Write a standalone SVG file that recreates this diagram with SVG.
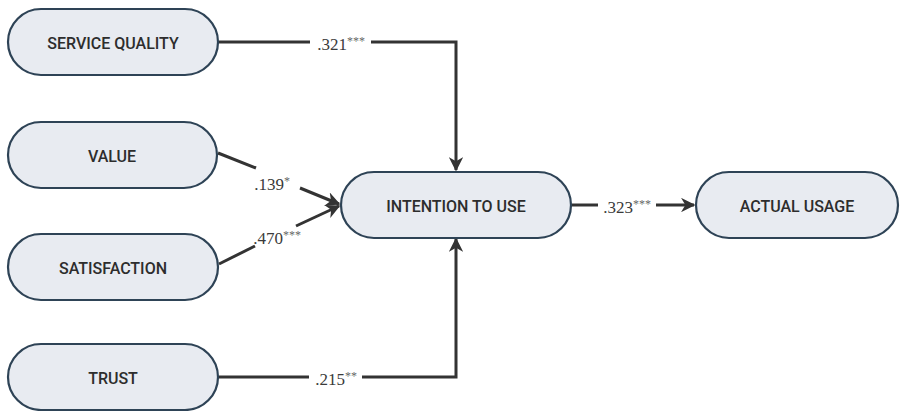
<svg xmlns="http://www.w3.org/2000/svg" width="901" height="411" viewBox="0 0 901 411">
<defs>
<style>
.node{fill:#e8ebf1;stroke:#2e4356;stroke-width:2.2}
.nt{font-family:Roboto,"Liberation Sans",sans-serif;font-size:16px;font-weight:500;fill:#2d2d2d;text-anchor:middle;dominant-baseline:central}
.ln{fill:none;stroke:#333;stroke-width:3}
.lb{font-family:"Liberation Serif",serif;font-size:17px;fill:#3a3a3a;text-anchor:middle;dominant-baseline:central}
.st{font-size:12px;fill:#666}
</style>
<marker id="ah" viewBox="0 0 10 10" refX="9" refY="5" markerWidth="4.8" markerHeight="4.8" orient="auto" markerUnits="strokeWidth">
<path d="M0,0 L10,5 L0,10 L3,5 Z" fill="#333"/>
</marker>
</defs>
<rect width="901" height="411" fill="#fff"/>
<g id="connectors">
<path class="ln" d="M219,42 H310"/>
<path class="ln" d="M371,42 H456 V170" marker-end="url(#ah)"/>
<path class="ln" d="M219,377 H309"/>
<path class="ln" d="M362,377 H456 V239" marker-end="url(#ah)"/>
<path class="ln" d="M218,153 L256,168"/>
<path class="ln" d="M300,188 L339,204" marker-end="url(#ah)"/>
<path class="ln" d="M219,264 L255,246"/>
<path class="ln" d="M296,226 L339,206" marker-end="url(#ah)"/>
<path class="ln" d="M572,205 H598"/>
<path class="ln" d="M656,205 H694" marker-end="url(#ah)"/>
<text class="lb" x="341" y="44">.321<tspan class="st" dy="-3">***</tspan></text>
<text class="lb" x="336" y="379">.215<tspan class="st" dy="-3">**</tspan></text>
<text class="lb" x="272" y="184">.139<tspan class="st" dy="-3">*</tspan></text>
<text class="lb" x="277" y="238">.470<tspan class="st" dy="-3">***</tspan></text>
<text class="lb" x="627" y="207">.323<tspan class="st" dy="-3">***</tspan></text>
</g>
<g id="service-quality"><rect class="node" x="8" y="9" width="210" height="66" rx="33"/><text class="nt" x="113" y="43">SERVICE QUALITY</text></g>
<g id="value"><rect class="node" x="8" y="122" width="209" height="66" rx="33"/><text class="nt" x="112" y="156">VALUE</text></g>
<g id="satisfaction"><rect class="node" x="8" y="234" width="210" height="66" rx="33"/><text class="nt" x="113" y="268">SATISFACTION</text></g>
<g id="trust"><rect class="node" x="8" y="344" width="210" height="66" rx="33"/><text class="nt" x="113" y="378">TRUST</text></g>
<g id="intention"><rect class="node" x="341" y="172" width="230" height="66" rx="33"/><text class="nt" x="456" y="206">INTENTION TO USE</text></g>
<g id="actual-usage"><rect class="node" x="696" y="172" width="202" height="66" rx="33"/><text class="nt" x="797" y="206">ACTUAL USAGE</text></g>
</svg>
